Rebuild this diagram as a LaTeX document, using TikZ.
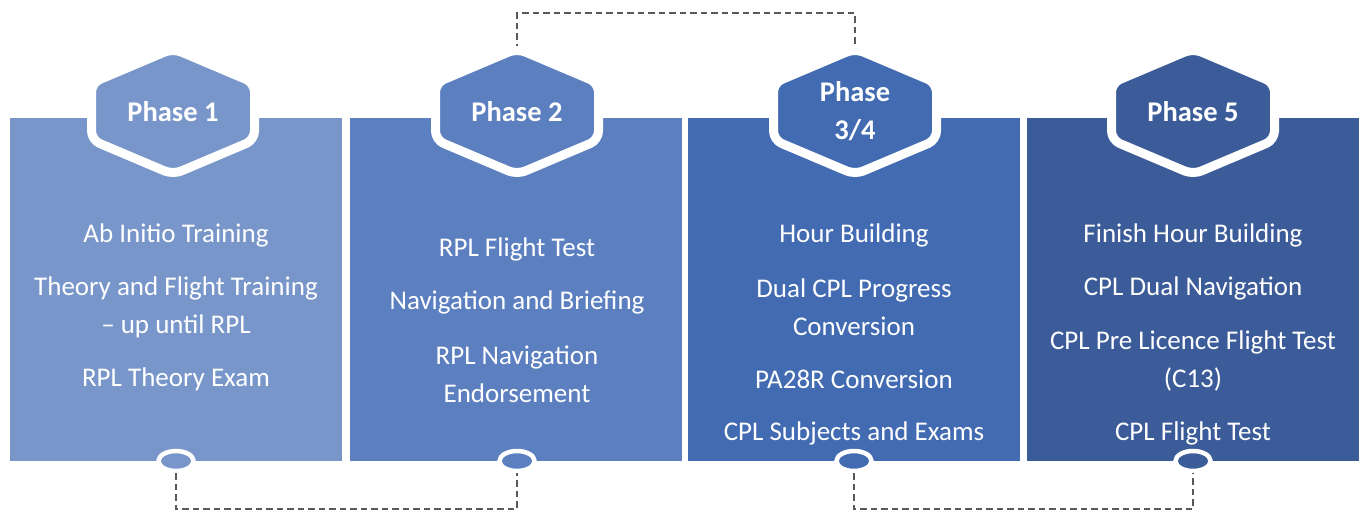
\documentclass[tikz,border=0pt]{standalone}
\usepackage{fontspec}
\setmainfont{Carlito}
\usetikzlibrary{shapes.geometric}
\definecolor{cA}{HTML}{7896CA}
\definecolor{cB}{HTML}{5C7FC0}
\definecolor{cC}{HTML}{426BB2}
\definecolor{cD}{HTML}{3B5B99}
\definecolor{dashgray}{HTML}{595959}
\newcommand\phasehex[3]{%
  \draw[shift={(#1,#2)}, fill=#3, draw=white, line width=9, rounded corners=9]
    (0,-63) -- (81.5,-28.5) -- (81.5,28.5) -- (0,63) -- (-81.5,28.5) -- (-81.5,-28.5) -- cycle;}
\begin{document}
\begin{tikzpicture}[x=1pt,y=-1pt,
  panelbox/.style={draw=none, minimum width=332, minimum height=343, inner sep=0},
  endcirc/.style={ellipse, draw=white, line width=4.5, minimum width=35, minimum height=20, inner sep=0},
  phaselabel/.style={text=white, align=center, font=\fontsize{28.5}{38}\selectfont\bfseries},
  bodytext/.style={text=white, align=center, font=\fontsize{27}{38}\selectfont},
  linkline/.style={draw=dashgray, line width=2, dash pattern=on 6.5 off 4}]
\useasboundingbox (0,0) rectangle (1364,512);
% panels
\node[panelbox, fill=cA] (p1) at (175.5,289.5) {};
\node[panelbox, fill=cB] (p2) at (516,289.5) {};
\node[panelbox, fill=cC] (p3) at (853.5,289.5) {};
\node[panelbox, fill=cD] (p4) at (1193,289.5) {};
% end circles
\node[endcirc, fill=cA] (e1) at (176,461) {};
\node[endcirc, fill=cB] (e2) at (517,461) {};
\node[endcirc, fill=cC] (e3) at (854,461) {};
\node[endcirc, fill=cD] (e4) at (1193,461) {};
% connector anchors
\coordinate (t2) at (517,50);
\coordinate (t3) at (855,50);
\coordinate (topline) at (0,13);
\coordinate (lowline) at (0,509);
\draw[linkline] (t2) -- (t2 |- topline) -| (t3);
\draw[linkline] (e1.south) -- (e1.south |- lowline) -| (e2.south);
\draw[linkline] (e3.south) -- (e3.south |- lowline) -| (e4.south);
% hexagons
\phasehex{173}{111.5}{cA}
\phasehex{517}{111.5}{cB}
\phasehex{855}{111.5}{cC}
\phasehex{1193}{111.5}{cD}
\node[phaselabel] (h1) at (173,111.5) {Phase 1};
\node[phaselabel] (h2) at (517,111.5) {Phase 2};
\node[phaselabel] (h3) at (855,111.5) {Phase\\3/4};
\node[phaselabel] (h4) at (1193,111.5) {Phase 5};
% body texts
\node[bodytext] (a1) at (176,235) {Ab Initio Training};
\node[bodytext] (a2) at (176,307) {Theory and Flight Training\\– up until RPL};
\node[bodytext] (a3) at (176,379) {RPL Theory Exam};
\node[bodytext] (b1) at (517,249) {RPL Flight Test};
\node[bodytext] (b2) at (517,302) {Navigation and Briefing};
\node[bodytext] (b3) at (517,374.5) {RPL Navigation\\Endorsement};
\node[bodytext] (c1) at (854,235) {Hour Building};
\node[bodytext] (c2) at (854,307) {Dual CPL Progress\\Conversion};
\node[bodytext] (c3) at (854,379) {PA28R Conversion};
\node[bodytext] (c4) at (854,433) {CPL Subjects and Exams};
\node[bodytext] (d1) at (1193,235) {Finish Hour Building};
\node[bodytext] (d2) at (1193,288) {CPL Dual Navigation};
\node[bodytext] (d3) at (1193,361) {CPL Pre Licence Flight Test\\(C13)};
\node[bodytext] (d4) at (1193,433) {CPL Flight Test};
\end{tikzpicture}
\end{document}
